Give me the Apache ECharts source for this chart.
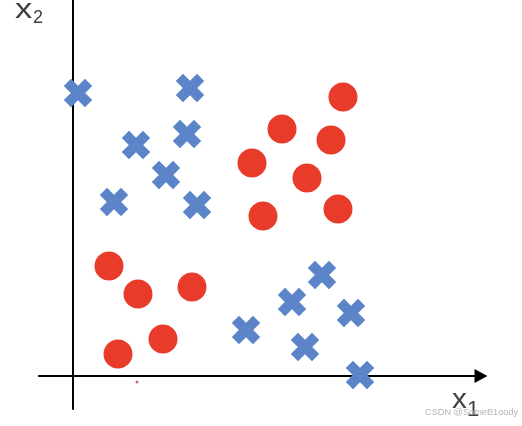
<!DOCTYPE html>
<html>
<head>
<meta charset="utf-8">
<style>html,body{margin:0;padding:0;background:#fff;}#c{width:522px;height:426px;}</style>
<script src="https://cdn.jsdelivr.net/npm/echarts@6/dist/echarts.min.js"></script>
</head>
<body>
<div id="c"></div>
<script>
// Class A (crosses): [x1, x2]
const crosses = [
  [5, 283], [117, 288], [114, 242], [63, 231], [93, 201], [41, 174], [124, 171],
  [249, 101], [219, 74], [278, 63], [173, 46], [232, 29], [287, 1]
];
// Class B (circles): [x1, x2]
const circles = [
  [270, 279], [209, 247], [258, 236], [179, 213], [234, 198], [190, 160], [265, 167],
  [36, 110], [65, 82], [119, 89], [90, 37], [45, 22]
];
// stray dot
const stray = [[64, -6]];

const xRange = [-34, 408];
const yRange = [-33, 376];

const chart = echarts.init(document.getElementById('c'), null, {renderer: 'canvas'});
const plusPath = 'path://M33,0H67V33H100V67H67V100H33V67H0V33H33Z';

chart.setOption({
  animation: false,
  backgroundColor: '#ffffff',
  grid: {left: 39, right: 41, top: 0, bottom: 17},
  xAxis: {
    type: 'value', min: xRange[0], max: xRange[1],
    axisLine: {onZero: true, lineStyle: {color: '#000', width: 2}, symbol: ['none', 'triangle'], symbolSize: [14, 13]},
    axisTick: {show: false}, axisLabel: {show: false}, splitLine: {show: false}
  },
  yAxis: {
    type: 'value', min: yRange[0], max: yRange[1],
    axisLine: {onZero: true, lineStyle: {color: '#000', width: 2}},
    axisTick: {show: false}, axisLabel: {show: false}, splitLine: {show: false}
  },
  series: [
    {
      type: 'scatter', data: crosses, symbol: plusPath, symbolRotate: 45, symbolSize: 30,
      itemStyle: {color: '#5B85C8', opacity: 1}, z: 3
    },
    {
      type: 'scatter', data: circles, symbol: 'circle', symbolSize: 29,
      itemStyle: {color: '#E83B2A', opacity: 1}, z: 3
    },
    {
      type: 'scatter', data: stray, symbol: 'circle', symbolSize: 3,
      itemStyle: {color: '#D9606A', opacity: 1}, z: 3
    }
  ],
  graphic: [
    {type: 'text', x: 15, y: -3, scaleX: 1.28, style: {text: 'x', font: '27px "Liberation Sans"', fill: '#404040'}},
    {type: 'text', x: 33, y: 9, style: {text: '2', font: '18px "Liberation Sans"', fill: '#404040'}},
    {type: 'text', x: 452, y: 387, scaleX: 1.1, style: {text: 'x', font: '27px "Liberation Sans"', fill: '#404040'}},
    {type: 'text', x: 467, y: 399, style: {text: '1', font: '22px "Liberation Sans"', fill: '#404040'}},
    {type: 'text', x: 425, y: 408, style: {text: 'CSDN @SomeB1oody', font: '9.2px "Liberation Sans"', fill: '#b5b5b5'}}
  ]
});
</script>
</body>
</html>
